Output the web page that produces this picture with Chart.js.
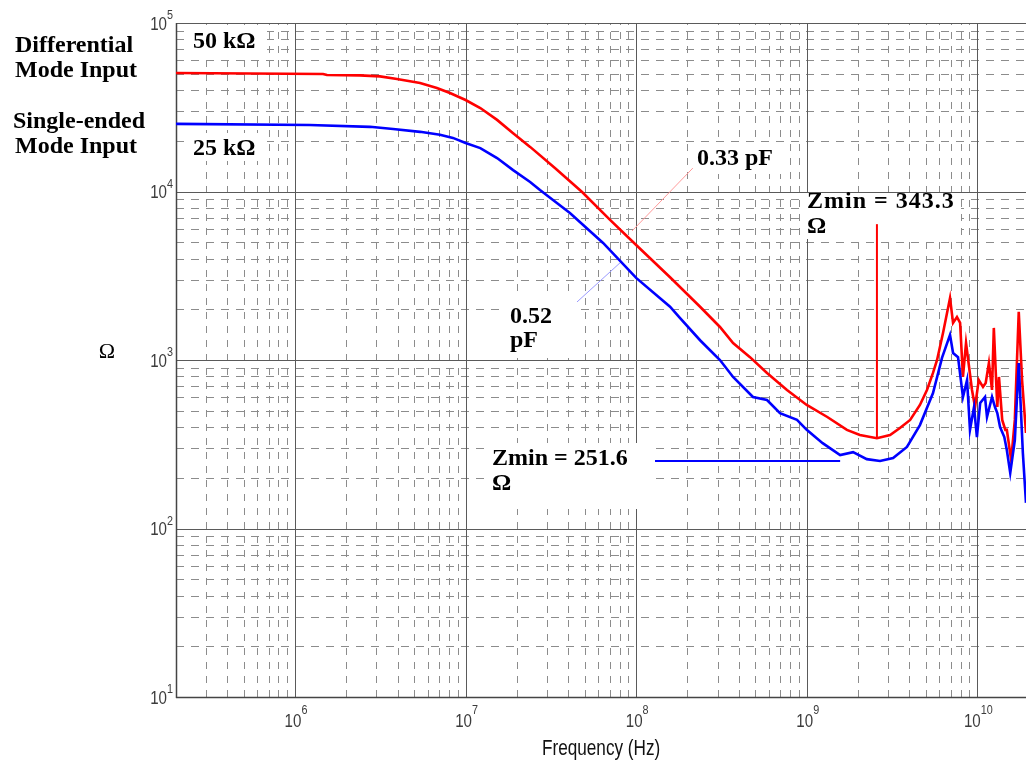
<!DOCTYPE html>
<html><head><meta charset="utf-8">
<script src="https://cdn.jsdelivr.net/npm/chart.js@4"></script>
<style>html,body{margin:0;padding:0;background:#fff;overflow:hidden}canvas{display:block}</style>
</head><body>
<canvas id="c" width="1026" height="764"></canvas>
<script>
// ---------- data ----------
const freqDiff = [2.0e5,1.46e6,1.54e6,2.40e6,3.15e6,3.96e6,5.41e6,6.79e6,8.10e6,1.0e7,1.22e7,1.53e7,1.90e7,2.39e7,3.34e7,4.82e7,7.03e7,1.0e8,1.58e8,2.37e8,3.10e8,3.70e8,4.65e8,5.85e8,7.66e8,1.0e9,1.32e9,1.72e9,2.05e9,2.58e9,3.08e9,3.52e9,4.04e9,4.61e9,5.07e9,5.50e9,5.81e9,6.30e9,6.92e9,7.21e9,7.60e9,7.93e9,8.24e9,8.59e9,9.31e9,9.70e9,1.02e10,1.08e10,1.12e10,1.17e10,1.22e10,1.25e10,1.31e10,1.34e10,1.40e10,1.46e10,1.49e10,1.58e10,1.66e10,1.75e10,1.83e10,1.93e10];
const zDiff    = [50500,49800,49100,48900,48200,46500,44100,41100,38400,34900,31300,26600,22200,18400,13800,9930,6780,4810,3100,2070,1570,1260,1040,838,664,541,459,385,359,343.3,359,395,441,541,664,838,1000,1450,2330,1660,1800,1660,793,1260,664,526,760,692,731,960,664,1550,526,793,441,385,385,255,441,1930,760,369];
const freqSingle = [2.0e5,1.22e6,2.75e6,3.76e6,5.41e6,7.08e6,8.43e6,1.0e7,1.22e7,1.53e7,1.90e7,2.39e7,2.73e7,4.09e7,6.40e7,1.0e8,1.58e8,1.81e8,2.37e8,3.10e8,3.70e8,4.84e8,5.85e8,6.97e8,8.77e8,1.0e9,1.24e9,1.57e9,1.87e9,2.25e9,2.69e9,3.21e9,3.87e9,4.61e9,5.50e9,6.21e9,6.92e9,7.21e9,7.71e9,8.24e9,8.71e9,9.06e9,9.57e9,9.95e9,1.04e10,1.11e10,1.14e10,1.22e10,1.27e10,1.31e10,1.36e10,1.44e10,1.49e10,1.56e10,1.66e10,1.75e10,1.85e10,1.93e10];
const zSingle    = [25200,24800,24200,23500,22600,21700,20800,19400,18100,15800,13400,11400,10200,7460,4950,3070,2070,1770,1310,1000,793,603,579,484,441,385,321,273,284,258,251.6,262,305,411,637,1030,1410,1100,1040,603,760,385,526,349,556,603,459,603,526,484,400,349,292,214,335,960,281,142];
const xTickExponents = [6,7,8,9,10];
const yTickExponents = [1,2,3,4,5];
const xRange = [2.006e5, 1.93e10];
const yRange = [10, 1e5];
const zminDiff = 343.3, zminDiffFreq = 2.58e9, zminDiffMarkerTop = 6400;
const zminSingle = 251.6, zminSingleFreqs = [1.29e8, 1.57e9];
const cap033Freq = [9.46e7, 2.15e8], cap033Z = [5830, 13770];
const cap052Freq = [4.50e7, 8.04e7], cap052Z = [2210, 3770];

const pts = (xs, ys) => xs.map((v, i) => ({x: v, y: ys[i]}));

// ---------- helpers ----------
function scaledText(ctx, text, x, y, font, sx, align) {
  ctx.save();
  ctx.font = font;
  const w = ctx.measureText(text).width * sx;
  let left = x;
  if (align === 'right') left = x - w; else if (align === 'center') left = x - w / 2;
  ctx.translate(left, y);
  ctx.scale(sx, 1);
  ctx.textAlign = 'left';
  ctx.fillText(text, 0, 0);
  ctx.restore();
  return w;
}
function powLabel(ctx, exp, x, y, mode) {
  const baseFont = '18px "Liberation Sans", Arial, sans-serif';
  const expFont = '12px "Liberation Sans", Arial, sans-serif';
  const sx = 0.84, ex = 0.9;
  ctx.font = baseFont; const wb = ctx.measureText('10').width * sx;
  ctx.font = expFont; const we = ctx.measureText(String(exp)).width * ex;
  let left;
  if (mode === 'y') left = x - wb - we; else left = x - (wb + we) / 2;
  const baseY = mode === 'y' ? y + 6.5 : y;
  const expY = mode === 'y' ? y - 4 : y - 13;
  scaledText(ctx, '10', left, baseY, baseFont, sx, 'left');
  scaledText(ctx, String(exp), left + wb, expY, expFont, ex, 'left');
}

const boxes = [
  [189, 27, 78, 27], [189, 133, 78, 28], [688, 142, 98, 32],
  [803, 193, 158, 46], [505, 298, 70, 60], [487, 443, 163, 66]
];

const gridPlugin = {
  id: 'logGrid',
  beforeDatasetsDraw(chart) {
    const {ctx, chartArea: a, scales: {x, y}} = chart;
    ctx.save();
    const line = (x1, y1, x2, y2) => { ctx.beginPath(); ctx.moveTo(x1, y1); ctx.lineTo(x2, y2); ctx.stroke(); };
    // minor dashed grid
    ctx.lineWidth = 1; ctx.strokeStyle = '#8c8c8c'; ctx.setLineDash([8, 7]);
    for (let n = 1; n < 5; n++) for (let k = 2; k <= 9; k++) {
      const py = Math.round(y.getPixelForValue(k * Math.pow(10, n))) + 0.5;
      line(a.left, py, a.right, py);
    }
    ctx.setLineDash([7, 7]);
    for (let n = 5; n <= 10; n++) for (let k = 2; k <= 9; k++) {
      const v = k * Math.pow(10, n);
      if (v <= xRange[0] || v >= xRange[1]) continue;
      const px = Math.round(x.getPixelForValue(v)) + 0.5;
      line(px, a.bottom, px, a.top);
    }
    // major solid grid
    ctx.setLineDash([]); ctx.strokeStyle = '#5a5a5a';
    yTickExponents.forEach(n => { const py = Math.round(y.getPixelForValue(Math.pow(10, n))) + 0.5; line(a.left, py, a.right, py); });
    xTickExponents.forEach(n => { const px = Math.round(x.getPixelForValue(Math.pow(10, n))) + 0.5; line(px, a.top, px, a.bottom); });
    // frame
    ctx.strokeStyle = '#444'; ctx.lineWidth = 1.5;
    line(a.left + 0.5, a.top, a.left + 0.5, a.bottom + 1);
    line(a.left, a.bottom + 0.5, a.right, a.bottom + 0.5);
    // white label backgrounds
    ctx.fillStyle = '#ffffff';
    boxes.forEach(b => ctx.fillRect(b[0], b[1], b[2], b[3]));
    ctx.restore();
  },
  afterDraw(chart) {
    const {ctx, scales: {x, y}} = chart;
    ctx.save();
    ctx.fillStyle = '#3c3c3c';
    yTickExponents.forEach(n => powLabel(ctx, n, 173, y.getPixelForValue(Math.pow(10, n)), 'y'));
    xTickExponents.forEach(n => powLabel(ctx, n, x.getPixelForValue(Math.pow(10, n)) + 1, 727, 'x'));
    ctx.fillStyle = '#111';
    scaledText(ctx, 'Frequency (Hz)', 542, 755, '22px "Liberation Sans", Arial, sans-serif', 0.78, 'left');
    ctx.fillStyle = '#000';
    ctx.textAlign = 'center';
    ctx.font = '22px "Liberation Serif", "Times New Roman", serif';
    ctx.fillText('Ω', 107, 358);
    ctx.textAlign = 'left';
    ctx.font = 'bold 24px "Liberation Serif", "Times New Roman", serif';
    const texts = [
      ['Differential', 15, 52], ['Mode Input', 15, 77],
      ['Single-ended', 13, 128], ['Mode Input', 15, 153],
      ['50 kΩ', 193, 48], ['25 kΩ', 193, 155],
      ['0.33 pF', 697, 165],
      ['Ω', 807, 233],
      ['0.52', 510, 323], ['pF', 510, 347],
      ['Zmin = 251.6', 492, 465], ['Ω', 492, 490]
    ];
    texts.forEach(t => ctx.fillText(t[0], t[1], t[2]));
    ctx.letterSpacing = '1px';
    ctx.fillText('Zmin = 343.3', 807, 208);
    ctx.restore();
  }
};

new Chart(document.getElementById('c'), {
  type: 'line',
  data: {
    datasets: [
      {label: '0.33 pF', data: pts(cap033Freq, cap033Z), borderColor: '#ff9a9a', borderWidth: 1, pointRadius: 0},
      {label: '0.52 pF', data: pts(cap052Freq, cap052Z), borderColor: '#9a9aff', borderWidth: 1, pointRadius: 0},
      {label: 'Zmin diff', data: pts([zminDiffFreq, zminDiffFreq], [zminDiff, zminDiffMarkerTop]), borderColor: '#ff0000', borderWidth: 2, pointRadius: 0},
      {label: 'Zmin single', data: pts(zminSingleFreqs, [zminSingle, zminSingle]), borderColor: '#0000ff', borderWidth: 2, pointRadius: 0},
      {label: 'Single-ended', data: pts(freqSingle, zSingle), borderColor: '#0000ff', borderWidth: 2.6, pointRadius: 0, tension: 0},
      {label: 'Differential', data: pts(freqDiff, zDiff), borderColor: '#ff0000', borderWidth: 2.6, pointRadius: 0, tension: 0}
    ]
  },
  options: {
    responsive: false, animation: false, devicePixelRatio: 1,
    layout: {padding: {left: 176, top: 23, right: 0, bottom: 67}},
    plugins: {legend: {display: false}, tooltip: {enabled: false}},
    scales: {
      x: {type: 'logarithmic', min: xRange[0], max: xRange[1], display: false},
      y: {type: 'logarithmic', min: yRange[0], max: yRange[1], display: false}
    }
  },
  plugins: [gridPlugin]
});
</script>
</body></html>
